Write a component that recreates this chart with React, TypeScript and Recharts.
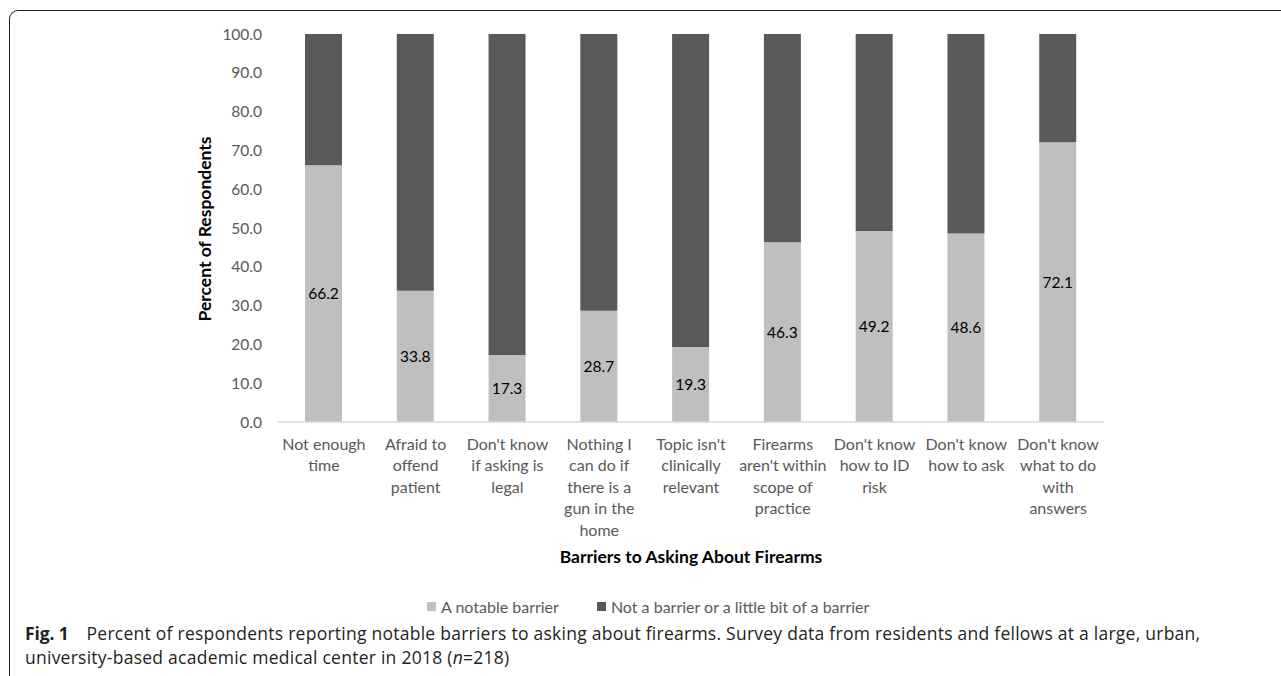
import React from 'react';
import { BarChart, Bar, XAxis, YAxis, LabelList, Legend, Label } from 'recharts';

const categories = [
  'Not enough time',
  'Afraid to offend patient',
  "Don't know if asking is legal",
  'Nothing I can do if there is a gun in the home',
  "Topic isn't clinically relevant",
  "Firearms aren't within scope of practice",
  "Don't know how to ID risk",
  "Don't know how to ask",
  "Don't know what to do with answers",
];

const categoryLines = [
  ['Not enough', 'time'],
  ['Afraid to', 'offend', 'patient'],
  ["Don't know", 'if asking is', 'legal'],
  ['Nothing I', 'can do if', 'there is a', 'gun in the', 'home'],
  ["Topic isn't", 'clinically', 'relevant'],
  ['Firearms', "aren't within", 'scope of', 'practice'],
  ["Don't know", 'how to ID', 'risk'],
  ["Don't know", 'how to ask'],
  ["Don't know", 'what to do', 'with', 'answers'],
];

const notableBarrier = [66.2, 33.8, 17.3, 28.7, 19.3, 46.3, 49.2, 48.6, 72.1];
const notABarrier = [33.8, 66.2, 82.7, 71.3, 80.7, 53.7, 50.8, 51.4, 27.9];

const yTicks = [0, 10, 20, 30, 40, 50, 60, 70, 80, 90, 100];

const seriesNames = ['A notable barrier', 'Not a barrier or a little bit of a barrier'];
const seriesColors = ['#bfbfbf', '#595959'];

const data = categories.map((c, i) => ({
  category: c,
  notable: notableBarrier[i],
  notBarrier: notABarrier[i],
}));

const FONT = 'Lato, "Open Sans", sans-serif';
const GREY = '#595959';

const CategoryTick = (props: any) => {
  const { x, y, index } = props;
  const lines = categoryLines[index] || [];
  return (
    <text x={x} y={y} textAnchor="middle" fill={GREY} fontFamily={FONT} fontSize={16}>
      {lines.map((l, i) => (
        <tspan key={i} x={x} dy={i === 0 ? 28 : 21.4}>
          {l}
        </tspan>
      ))}
    </text>
  );
};

const LegendContent = () => (
  <div style={{ display: 'flex', alignItems: 'center', fontFamily: FONT, fontSize: 16, color: GREY, whiteSpace: 'nowrap' }}>
    {seriesNames.map((n, i) => (
      <div key={n} style={{ display: 'flex', alignItems: 'center', marginRight: i === 0 ? 38 : 0 }}>
        <span style={{ display: 'inline-block', width: 9, height: 9, background: seriesColors[i], marginRight: 5 }} />
        <span>{n}</span>
      </div>
    ))}
  </div>
);

const XTitle = (props: any) => {
  const { viewBox } = props;
  const cx = viewBox.x + viewBox.width / 2;
  return (
    <text x={cx} y={viewBox.y + 141} textAnchor="middle" fontFamily={FONT} fontWeight={700} fontSize={17.5} fill="#000">
      Barriers to Asking About Firearms
    </text>
  );
};

const YTitle = (props: any) => {
  const { viewBox } = props;
  const cy = viewBox.y + viewBox.height / 2 + 1;
  const cx = 211;
  return (
    <text
      x={cx}
      y={cy}
      textAnchor="middle"
      fontFamily={FONT}
      fontWeight={700}
      fontSize={17.5}
      fill="#000"
      transform={`rotate(-90, ${cx}, ${cy})`}
    >
      Percent of Respondents
    </text>
  );
};

export default function App() {
  return (
    <div style={{ position: 'absolute', left: 0, top: 0, width: 1281, height: 676, background: '#fff', overflow: 'hidden' }}>
      <div
        style={{
          position: 'absolute',
          left: 9,
          top: 10,
          width: 1300,
          height: 700,
          borderTop: '1.5px solid #231f20',
          borderLeft: '1.5px solid #231f20',
          borderTopLeftRadius: 9,
          boxSizing: 'border-box',
        }}
      />
      <div style={{ position: 'absolute', left: 0, top: 0 }}>
        <BarChart width={1281} height={676} data={data} margin={{ top: 34, right: 177, left: 0, bottom: 0 }}>
          <XAxis
            dataKey="category"
            height={254}
            interval={0}
            tickLine={false}
            tickSize={0}
            tickMargin={0}
            axisLine={{ stroke: '#d9d9d9', strokeWidth: 1.5 }}
            tick={<CategoryTick />}
          >
            <Label content={<XTitle />} />
          </XAxis>
          <YAxis
            width={278}
            domain={[0, 100]}
            ticks={yTicks}
            interval={0}
            axisLine={false}
            tickLine={false}
            tickSize={0}
            tickMargin={16}
            tickFormatter={(v: number) => v.toFixed(1)}
            tick={{ fill: GREY, fontFamily: FONT, fontSize: 15.5 }}
          >
            <Label content={<YTitle />} />
          </YAxis>
          <Legend
            verticalAlign="middle"
            align="center"
            layout="horizontal"
            content={<LegendContent />}
            wrapperStyle={{ top: 597, left: 427, width: 'auto' }}
          />
          <Bar dataKey="notable" name={seriesNames[0]} stackId="a" fill={seriesColors[0]} barSize={37} isAnimationActive={false}>
            <LabelList
              dataKey="notable"
              position="center"
              formatter={(v: any) => Number(v).toFixed(1)}
              fill="#000"
              fontFamily={FONT}
              fontSize={15.5}
            />
          </Bar>
          <Bar dataKey="notBarrier" name={seriesNames[1]} stackId="a" fill={seriesColors[1]} barSize={37} isAnimationActive={false} />
        </BarChart>
      </div>
      <div
        style={{
          position: 'absolute',
          left: 25,
          top: 621,
          width: 1250,
          fontFamily: '"Open Sans", sans-serif',
          fontSize: 17.5,
          lineHeight: '24px',
          color: '#231f20',
          whiteSpace: 'nowrap',
          letterSpacing: '0.25px',
        }}
      >
        <span style={{ fontWeight: 700, letterSpacing: '-0.1px' }}>Fig. 1</span>
        <span style={{ marginLeft: 4 }}>
          {'\u2002 Percent of respondents reporting notable barriers to asking about firearms. Survey data from residents and fellows at a large, urban,'}
        </span>
        <br />
        {'university-based academic medical center in 2018 ('}
        <i>n</i>
        {'=218)'}
      </div>
    </div>
  );
}
